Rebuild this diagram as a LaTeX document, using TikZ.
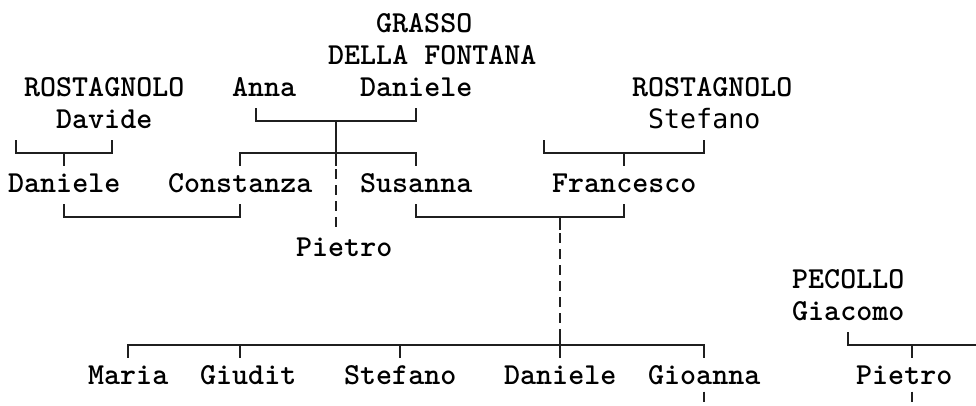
\documentclass[tikz,border=0pt]{standalone}
\usepackage{fontspec}
\newfontfamily\sansmono{DejaVu Sans Mono}
\usepackage{tikz}
\tikzset{
  famnode/.style = {anchor=mid west, inner sep=0pt, text=black, yshift=-5pt,
    font=\ttfamily\bfseries\fontsize{30.5}{32}\selectfont},
  fam_n/.style = {famnode},% nom
  fam_s/.style = {famnode, font=\sansmono\fontsize{26.6}{32}\selectfont},% nom, autre police
  link/.style = {line width=1.6pt, black!88},
  link_d/.style = {link, dash pattern=on 10pt off 6pt}% filiation incertaine
}

\begin{document}
\begin{tikzpicture}[x=16pt, y=-32pt]
  \useasboundingbox (-1,-0.78125) rectangle (60,11.875);

  % generation 1
  \node [fam_n] (grasso)   at (22.5,0) {GRASSO};
  \node [fam_n] (fontana)  at (19.5,1) {DELLA FONTANA};
  \node [fam_n] (rost_a)   at (0.5,2)  {ROSTAGNOLO};
  \node [fam_n] (anna)     at (13.5,2) {Anna};
  \node [fam_n] (dan_g)    at (21.5,2) {Daniele};
  \node [fam_n] (rost_b)   at (38.5,2) {ROSTAGNOLO};
  \node [fam_n] (davide)   at (2.5,3)  {Davide};
  \node [fam_s] (stef_r)   at (39.5,3) {Stefano};

  % generation 2
  \node [fam_n] (dan_r)    at (-0.5,5) {Daniele};
  \node [fam_n] (constanza) at (9.5,5) {Constanza};
  \node [fam_n] (susanna)  at (21.5,5) {Susanna};
  \node [fam_n] (francesco) at (33.5,5) {Francesco};
  \node [fam_n] (pietro_g) at (17.5,7) {Pietro};
  \node [fam_n] (pecollo)  at (48.5,8) {PECOLLO};
  \node [fam_n] (giacomo)  at (48.5,9) {Giacomo};

  % generation 3
  \node [fam_n] (maria)    at (4.5,11)  {Maria};
  \node [fam_n] (giudit)   at (11.5,11) {Giudit};
  \node [fam_n] (stefano)  at (20.5,11) {Stefano};
  \node [fam_n] (dan_f)    at (30.5,11) {Daniele};
  \node [fam_n] (gioanna)  at (39.5,11) {Gioanna};
  \node [fam_n] (pietro_p) at (52.5,11) {Pietro};

  % barres
  \coordinate (ros1_l) at (0,4);   \coordinate (ros1_r) at (6,4);   \coordinate (ros1_c) at (3,4);
  \coordinate (gra_l) at (15,3);   \coordinate (gra_r) at (25,3);   \coordinate (gra_c) at (20,3);
  \coordinate (gra_kl) at (14,4);  \coordinate (gra_kr) at (25,4);
  \coordinate (ros2_l) at (33,4);  \coordinate (ros2_r) at (43,4);  \coordinate (ros2_c) at (38,4);
  \coordinate (mar1_l) at (3,6);   \coordinate (mar1_r) at (14,6);
  \coordinate (mar2_l) at (25,6);  \coordinate (mar2_r) at (38,6);  \coordinate (mar2_c) at (34,6);
  \coordinate (fig_l) at (7,10);   \coordinate (fig_r) at (43,10);
  \coordinate (pec_l) at (52,10);  \coordinate (pec_r) at (60,10);  \coordinate (pec_c) at (56,10);
  \coordinate (gio_down) at (43,12.2);
  \coordinate (pie_down) at (56,12.2);

  \draw[link] (ros1_l) ++(0,-0.4) -- (ros1_l) -- (ros1_r) -- ++(0,-0.4);
  \draw[link] (ros1_c) -- ++(0,0.4);
  \draw[link] (gra_l) ++(0,-0.4) -- (gra_l) -- (gra_r) -- ++(0,-0.4);
  \draw[link] (gra_kl) ++(0,0.4) -- (gra_kl) -- (gra_kr) -- ++(0,0.4);
  \draw[link] (gra_c) -- ++(0,1.4);
  \draw[link_d, shorten >=10pt] (gra_c) ++(0,1.5) -- (gra_c |- pietro_g.north);
  \draw[link] (ros2_l) ++(0,-0.4) -- (ros2_l) -- (ros2_r) -- ++(0,-0.4);
  \draw[link] (ros2_c) -- ++(0,0.4);
  \draw[link] (mar1_l) ++(0,-0.4) -- (mar1_l) -- (mar1_r) -- ++(0,-0.4);
  \draw[link] (mar2_l) ++(0,-0.4) -- (mar2_l) -- (mar2_r) -- ++(0,-0.4);
  \draw[link] (mar2_c) -- ++(0,0.4);
  \draw[link_d] (mar2_c) ++(0,0.5) -- ++(0,3.1);
  \draw[link] (fig_l) ++(0,0.4) -- (fig_l) -- (fig_r) -- ++(0,0.4);
  \draw[link] (mar2_c |- fig_l) ++(0,-0.4) -- ++(0,0.8);
  \foreach \c in {14,24}
    \draw[link] (\c,10) -- ++(0,0.4);
  \draw[link] (pec_l) ++(0,-0.4) -- (pec_l) -- (pec_r);
  \draw[link] (pec_c) -- ++(0,0.4);
  \draw[link_d] ([yshift=-7pt]gioanna.south -| gio_down) -- (gio_down);
  \draw[link_d] ([yshift=-7pt]pietro_p.south -| pie_down) -- (pie_down);
\end{tikzpicture}
\end{document}
